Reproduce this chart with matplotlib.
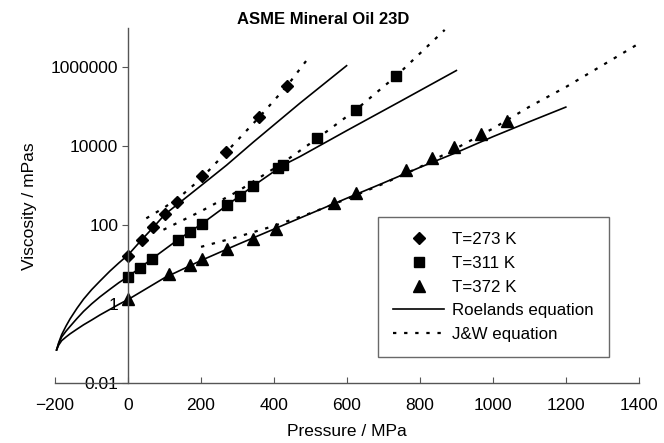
import matplotlib
matplotlib.use('Agg')
import matplotlib.pyplot as plt

plt.rcParams['font.family'] = ['Liberation Sans', 'DejaVu Sans']

# Measured points (pressure in MPa, viscosity in mPa s)
p273 = [0, 37, 69, 102, 135, 204, 268, 360, 436]
v273 = [16.4, 42, 88, 190, 380, 1800, 7300, 54000, 340000]
p311 = [0, 33, 65, 136, 170, 202, 270, 307, 343, 412, 425, 519, 624, 734]
v311 = [4.9, 8.0, 13.8, 42, 68, 107, 320, 560, 980, 2750, 3350, 16000, 83000, 590000]
p372 = [0, 113, 170, 202, 270, 342, 405, 565, 625, 761, 832, 893, 967, 1040]
v372 = [1.3, 5.7, 9.7, 13.5, 24, 44, 80, 370, 660, 2500, 5000, 9800, 20000, 44600]

# Roelands equation curves
r273_p = [-196, -190, -182, -170, -159, -140, -122, -100, -77, -50, -25, 0,
          37, 69, 102, 200, 270, 343, 471, 599]
r273_v = [0.068, 0.105, 0.166, 0.275, 0.417, 0.776, 1.32, 2.29, 3.8, 6.76, 11.0, 17.4,
          42, 87, 190, 1000, 3300, 12600, 123000, 1100000]
r311_p = [-196, -190, -182, -170, -159, -140, -122, -100, -77, -50, -25, 0,
          65, 136, 202, 343, 425, 472, 600, 745, 900]
r311_v = [0.068, 0.1, 0.145, 0.204, 0.269, 0.427, 0.646, 1.0, 1.51, 2.34, 3.47, 4.9,
          13.8, 42, 107, 980, 3300, 5500, 25000, 135000, 830000]
r372_p = [-196, -190, -182, -170, -159, -140, -122, -100, -77, -50, -25, 0,
          100, 200, 300, 400, 500, 600, 700, 800, 900, 1000, 1100, 1200]
r372_v = [0.068, 0.091, 0.117, 0.145, 0.174, 0.229, 0.295, 0.389, 0.525, 0.724, 0.977, 1.29,
          4.6, 12.6, 32, 79, 195, 480, 1170, 2900, 6900, 17400, 41700, 98000]

# J&W equation curves
j273_p = [50, 100, 150, 200, 270, 360, 436, 497]
j273_v = [148, 280, 600, 1500, 7200, 55000, 340000, 1860000]
j311_p = [97, 200, 300, 420, 519, 624, 734, 868]
j311_v = [76, 224, 710, 3550, 15800, 83000, 590000, 8900000]
j372_p = [200, 300, 400, 500, 600, 700, 800, 900, 1000, 1100, 1200, 1300, 1400]
j372_v = [28, 50, 95, 200, 460, 1120, 2950, 8900, 28000, 100000, 316000, 1120000, 4000000]

x_ticks = [-200, 0, 200, 400, 600, 800, 1000, 1200, 1400]
y_ticks = [0.01, 1, 100, 10000, 1000000]
y_labels = ['0.01', '1', '100', '10000', '1000000']

fig = plt.figure(figsize=(6.64, 4.43), dpi=100)
ax = fig.add_axes([0.083, 0.136, 0.879, 0.801])

dot = (0, (1.5, 3.5))
for p, v in [(r273_p, r273_v), (r311_p, r311_v), (r372_p, r372_v)]:
    ax.plot(p, v, color='black', lw=1.2)
for p, v in [(j273_p, j273_v), (j311_p, j311_v), (j372_p, j372_v)]:
    ax.plot(p, v, color='black', lw=1.6, linestyle=dot)

ax.plot(p273, v273, 'D', color='black', ms=6.5, ls='none', label='T=273 K')
ax.plot(p311, v311, 's', color='black', ms=7.5, ls='none', label='T=311 K')
ax.plot(p372, v372, '^', color='black', ms=8, ls='none', label='T=372 K')
ax.plot([], [], color='black', lw=1.2, label='Roelands equation')
ax.plot([], [], color='black', lw=1.6, linestyle=dot, label='J&W equation')

ax.set_yscale('log')
ax.set_xlim(-200, 1400)
ax.set_ylim(0.01, 1e7)
ax.set_xticks(x_ticks)
ax.set_xticklabels([str(t).replace('-', '\u2212') for t in x_ticks])
ax.set_yticks(y_ticks)
ax.set_yticklabels(y_labels)
ax.minorticks_off()

ax.spines['left'].set_position(('data', 0))
ax.spines['top'].set_visible(False)
ax.spines['right'].set_visible(False)
for s in ['left', 'bottom']:
    ax.spines[s].set_color('#555555')
    ax.spines[s].set_linewidth(1.0)
ax.tick_params(axis='x', direction='in', length=4, color='#555555', labelsize=12.5, pad=11)
ax.tick_params(axis='y', direction='out', length=4, color='#555555', labelsize=12.5, pad=3)

ax.set_title('ASME Mineral Oil 23D', fontsize=12, fontweight='bold', x=0.459, pad=3)
ax.set_xlabel('Pressure / MPa', fontsize=12.5, labelpad=8)
fig.text(0.045, 0.535, 'Viscosity / mPas', rotation=90, fontsize=12.5, ha='center', va='center')

leg = ax.legend(loc='upper left', bbox_to_anchor=(0.553, 0.468), borderaxespad=0,
                fontsize=12.2, frameon=True, fancybox=False, edgecolor='#444444',
                handlelength=3.0, handletextpad=0.5, numpoints=1, labelspacing=0.52,
                borderpad=0.9)
leg.get_frame().set_linewidth(1.0)

plt.savefig('out.png', dpi=100)
